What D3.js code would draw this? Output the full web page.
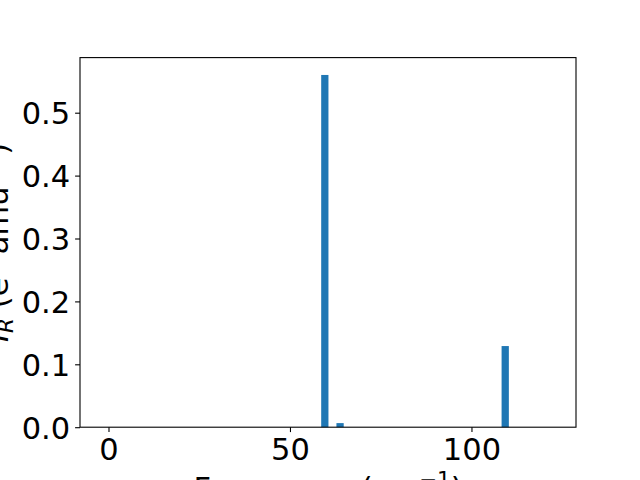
<!DOCTYPE html>
<html>
<head>
<meta charset="utf-8">
<script src="https://cdn.jsdelivr.net/npm/d3@7"></script>
<style>
body { margin: 0; background: #fff; }
svg { display: block; }
text { font-family: "DejaVu Sans", sans-serif; fill: #000; }
</style>
</head>
<body>
<script>
// Data
const frequencies = [59.6, 63.8, 109.3];
const intensities = [0.560, 0.0065, 0.129];
const barWidth = 2.0;
const xTicks = [0, 50, 100];
const yTicks = [0.0, 0.1, 0.2, 0.3, 0.4, 0.5];
const xDomain = [-7.85, 128.8];
const yDomain = [0, 0.5876];

const W = 640, H = 480;
const m = {left: 80, right: 576, top: 57.6, bottom: 427.2};
const FS = 30.5, SFS = 21.5;

const svg = d3.select("body").append("svg").attr("width", W).attr("height", H);

const x = d3.scaleLinear().domain(xDomain).range([m.left, m.right]);
const y = d3.scaleLinear().domain(yDomain).range([m.bottom, m.top]);

// bars
svg.append("g").selectAll("rect")
  .data(frequencies.map((f, i) => ({f, v: intensities[i]})))
  .join("rect")
  .attr("x", d => x(d.f - barWidth / 2))
  .attr("width", d => x(d.f + barWidth / 2) - x(d.f - barWidth / 2))
  .attr("y", d => y(d.v))
  .attr("height", d => y(0) - y(d.v))
  .attr("fill", "#1f77b4");

// axes
const xAxis = d3.axisBottom(x).tickValues(xTicks).tickFormat(d3.format("d"))
  .tickSize(4.9).tickPadding(4.9);
const yAxis = d3.axisLeft(y).tickValues(yTicks).tickFormat(d3.format(".1f"))
  .tickSize(4.9).tickPadding(4.9);

const gx = svg.append("g").attr("transform", `translate(0,${m.bottom})`).call(xAxis);
const gy = svg.append("g").attr("transform", `translate(${m.left},0)`).call(yAxis);
[gx, gy].forEach(g => {
  g.select(".domain").remove();
  g.selectAll(".tick line").attr("stroke", "#000").attr("stroke-width", 1.1);
  g.selectAll(".tick text").attr("font-size", FS).attr("font-family", "DejaVu Sans").attr("fill", "#000");
});
gx.selectAll(".tick text").attr("y", 0).attr("dy", 0).attr("transform", "translate(0,460)")
  .attr("transform", null).attr("y", 460 - m.bottom);
gy.selectAll(".tick text").attr("dy", "0.36em");

// frame
svg.append("rect")
  .attr("x", m.left).attr("y", m.top)
  .attr("width", m.right - m.left).attr("height", m.bottom - m.top)
  .attr("fill", "none").attr("stroke", "#000").attr("stroke-width", 1.1);

// labels
const xl = svg.append("text")
  .attr("x", (m.left + m.right) / 2).attr("y", 499)
  .attr("text-anchor", "middle").attr("font-size", FS);
xl.append("tspan").text("Frequency (cm");
xl.append("tspan").attr("font-size", SFS).attr("dy", -12).text("−1");
xl.append("tspan").attr("dy", 12).text(")");

const yl = svg.append("text")
  .attr("transform", `translate(8,${(m.top + m.bottom) / 2}) rotate(-90)`)
  .attr("text-anchor", "middle").attr("font-size", FS);
yl.append("tspan").attr("font-style", "italic").text("I");
yl.append("tspan").attr("font-style", "italic").attr("font-size", SFS).attr("dy", 5).text("R");
yl.append("tspan").attr("dy", -5).text(" (e");
yl.append("tspan").attr("font-size", SFS).attr("dy", -12).text("2");
yl.append("tspan").attr("dy", 12).text(" amu");
yl.append("tspan").attr("font-size", SFS).attr("dy", -12).text("−1");
yl.append("tspan").attr("dy", 12).text(")");
</script>
</body>
</html>
